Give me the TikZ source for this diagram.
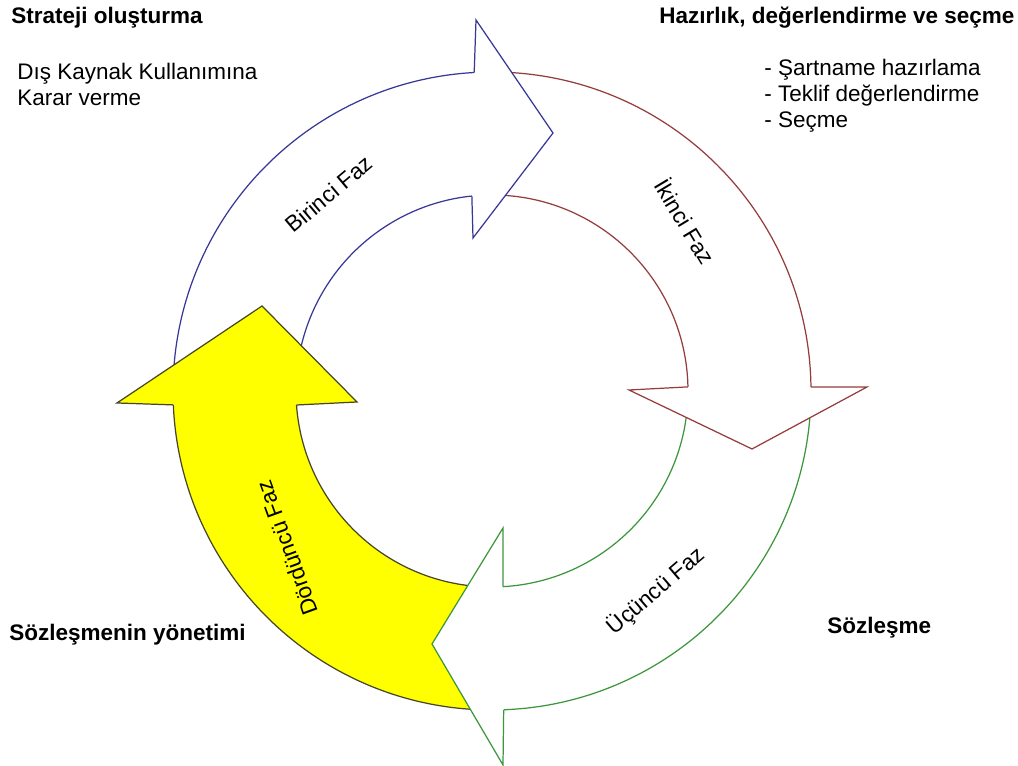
\documentclass[tikz,border=0pt]{standalone}
\usepackage{fontspec}
\setmainfont{Liberation Sans}
\usetikzlibrary{calc}

\definecolor{birincicol}{RGB}{55,55,150}
\definecolor{ikincicol}{RGB}{150,60,60}
\definecolor{ucuncucol}{RGB}{60,150,60}
\definecolor{dorduncucol}{RGB}{70,70,40}
\definecolor{dorduncufill}{RGB}{255,255,0}

\begin{document}
\begin{tikzpicture}[%
    x=0.02cm, y=0.02cm,%
    font=\fontsize{12.8}{14.7}\selectfont,%
    body/.style={line width=.7pt},%
    head/.style={line width=.7pt, line join=miter},%
    title/.style={font=\fontsize{12.8}{14.7}\selectfont\bfseries, inner sep=0pt},%
    plain/.style={align=left, inner sep=0pt},%
    faz/.style={inner sep=0pt},%
]%
    \pgfmathsetmacro{\Rout}{319}
    \pgfmathsetmacro{\Rin}{196}
    \useasboundingbox (0,0) rectangle (1018,766);
    \coordinate (c) at (492,375);

    % bodies: outer end / outer tail / inner tail / inner end / line / fill
    \foreach \oa/\ob/\ia/\ib/\lc/\fc in {%
        93.2/176/168/95.9/birincicol/white,%
        0.7/88/88/1.2/ikincicol/white,%
        -87.9/-3/-5/-86.8/ucuncucol/white,%
        182.5/267/264/184.1/dorduncucol/dorduncufill}{%
        \path[body,draw=\lc,fill=\fc] ($(c)+(\oa:\Rout)$)
            arc[start angle=\oa,end angle=\ob,radius=\Rout]
            -- ($(c)+(\ia:\Rin)$)
            arc[start angle=\ia,end angle=\ib,radius=\Rin];
    }

    % heads, drawn over the tail of the next arrow
    \path[head,draw=birincicol,fill=white] ($(c)+(93.2:\Rout)$)
        -- (476,746) -- (553,633) -- (473,528) -- ($(c)+(95.9:\Rin)$);
    \path[head,draw=ikincicol,fill=white] ($(c)+(0.7:\Rout)$)
        -- (867,379) -- (752,317) -- (629,376) -- ($(c)+(1.2:\Rin)$);
    \path[head,draw=ucuncucol,fill=white] ($(c)+(-87.9:\Rout)$)
        -- (503,1) -- (432,122) -- (503,238) -- ($(c)+(-86.8:\Rin)$);
    \path[head,draw=dorduncucol,fill=dorduncufill] ($(c)+(182.5:\Rout)$)
        -- (117,363) -- (262,460) -- (357,364) -- ($(c)+(184.1:\Rin)$);

    % phase labels
    \node[faz,rotate=40] (birinci) at (329,572) {Birinci Faz};
    \node[faz,rotate=-59] (ikinci) at (686,545) {İkinci Faz};
    \node[faz,rotate=40.5] (ucuncu) at (656,175) {Üçüncü Faz};
    \node[faz,rotate=110] (dorduncu) at (287,218) {Dördüncü Faz};

    % corner texts
    \node[title,anchor=west] (strateji) at (11,748) {Strateji oluşturma};
    \node[plain,anchor=north west] (karar) at (17,703)
        {Dış Kaynak Kullanımına\\Karar verme};
    \node[title,anchor=west] (hazirlik) at (659,748)
        {Hazırlık, değerlendirme ve seçme};
    \node[plain,anchor=north west] (liste) at (764,707)
        {- Şartname hazırlama\\- Teklif değerlendirme\\- Seçme};
    \node[title,anchor=west] (yonetim) at (9,131) {Sözleşmenin yönetimi};
    \node[title,anchor=west] (sozlesme) at (827,138) {Sözleşme};
\end{tikzpicture}
\end{document}
